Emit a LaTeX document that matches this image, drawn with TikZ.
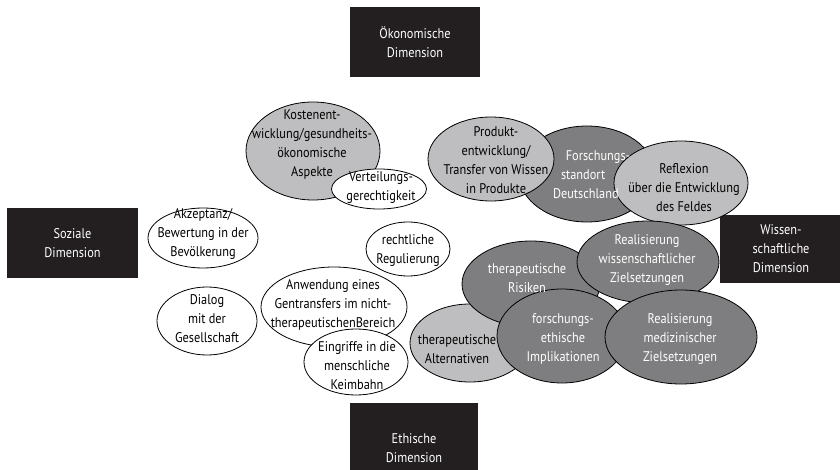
\documentclass[tikz,border=0pt]{standalone}
\usepackage{fontspec}
\setmainfont{PT Sans}[FakeStretch=0.88]
\usetikzlibrary{shapes.geometric}
\definecolor{dunkel}{RGB}{126,126,128}
\definecolor{hell}{RGB}{190,190,192}
\definecolor{kasten}{RGB}{35,31,32}
\begin{document}
\begin{tikzpicture}[x=1pt,y=-1pt,line join=round,line cap=round]
	\tikzset{oval/.style={ellipse,draw=black,line width=0.8pt,inner sep=0pt},
		weiss/.style={oval,fill=white},
		grau/.style={oval,fill=hell},
		dgrau/.style={oval,fill=dunkel},
		txt/.style={align=center,inner sep=0pt,font=\fontsize{14}{19}\selectfont},
		wtxt/.style={txt,text=white},
		dim/.style={rectangle,fill=kasten,text=white,align=center,inner sep=0pt,font=\fontsize{14}{19}\selectfont}}
	\useasboundingbox (0,0) rectangle (840,470);
	%% Dimensionen
	\node[dim,minimum width=130,minimum height=70] (oek) at (415,42) {Ökonomische\\Dimension};
	\node[dim,minimum width=131,minimum height=70] (soz) at (72.5,243) {Soziale\\Dimension};
	\node[dim,minimum width=122,minimum height=68] (wis) at (781,249) {Wissen-\\schaftliche\\Dimension};
	\node[dim,minimum width=128,minimum height=90] (eth) at (414,448) {Ethische\\Dimension};
	%% Ellipsen oben
	\node[grau,minimum width=134,minimum height=98] (kosten) at (313,151) {};
	\node[weiss,minimum width=95,minimum height=40] (vert) at (379,189) {};
	\node[dgrau,minimum width=136,minimum height=96] (standort) at (587,174) {};
	\node[grau,minimum width=126,minimum height=84] (produkt) at (491,159) {};
	\node[grau,minimum width=134,minimum height=84] (reflex) at (681,183) {};
	%% Ellipsen rechts unten
	\node[grau,minimum width=120,minimum height=78] (altern) at (470,343) {};
	\node[dgrau,minimum width=138,minimum height=86] (risiko) at (531,284) {};
	\node[dgrau,minimum width=142,minimum height=82] (wiss) at (648,262) {};
	\node[dgrau,minimum width=130,minimum height=94] (ethik) at (562,336) {};
	\node[dgrau,minimum width=152,minimum height=94] (medizin) at (681,337) {};
	%% Ellipsen links
	\node[weiss,minimum width=110,minimum height=60] (akzept) at (203,238) {};
	\node[weiss,minimum width=100,minimum height=68] (dialog) at (207,321) {};
	\node[weiss,minimum width=84,minimum height=54] (recht) at (408,249) {};
	\node[weiss,minimum width=146,minimum height=80] (anwend) at (334,307) {};
	\node[weiss,minimum width=104,minimum height=66] (keim) at (356,362) {};
	%% Texte
	\node[txt] (kosten-t) at ([shift={(-1,-6)}]kosten) {Kostenent-\\wicklung/gesundheits-\\ökonomische\\Aspekte};
	\node[txt] (vert-t) at ([shift={(2,-1)}]vert) {Verteilungs-\\gerechtigkeit};
	\node[wtxt] (standort-t) at ([shift={(11,1)}]standort) {Forschungs-\\\makebox[74pt][l]{standort}\\\makebox[90pt][l]{Deutschland}};
	\node[txt] (produkt-t) at ([shift={(5,1)}]produkt) {Produkt-\\entwicklung/\\Transfer von Wissen\\in Produkte};
	\node[txt] (reflex-t) at ([shift={(3,5)}]reflex) {Reflexion\\über die Entwicklung\\des Feldes};
	\node[txt] (altern-t) at ([shift={(-13,6)}]altern) {therapeutische\\Alternativen};
	\node[wtxt] (risiko-t) at ([shift={(-4,-6)}]risiko) {therapeutische\\Risiken};
	\node[wtxt] (wiss-t) at ([shift={(-1,-2)}]wiss) {Realisierung\\wissenschaftlicher\\Zielsetzungen};
	\node[wtxt] (ethik-t) at ([shift={(1,3)}]ethik) {forschungs-\\ethische\\Implikationen};
	\node[wtxt] (medizin-t) at ([shift={(-1,2)}]medizin) {Realisierung\\medizinischer\\Zielsetzungen};
	\node[txt] (akzept-t) at ([shift={(0,-4)}]akzept) {Akzeptanz/\\Bewertung in der\\Bevölkerung};
	\node[txt] (dialog-t) at ([shift={(0,-2)}]dialog) {Dialog\\mit der\\Gesellschaft};
	\node[txt] (recht-t) at ([shift={(0,2)}]recht) {rechtliche\\Regulierung};
	\node[txt] (anwend-t) at ([shift={(-1,-2)}]anwend) {Anwendung eines\\Gentransfers im nicht-\\therapeutischenBereich};
	\node[txt] (keim-t) at ([shift={(1,4)}]keim) {Eingriffe in die\\menschliche\\Keimbahn};
\end{tikzpicture}
\end{document}
